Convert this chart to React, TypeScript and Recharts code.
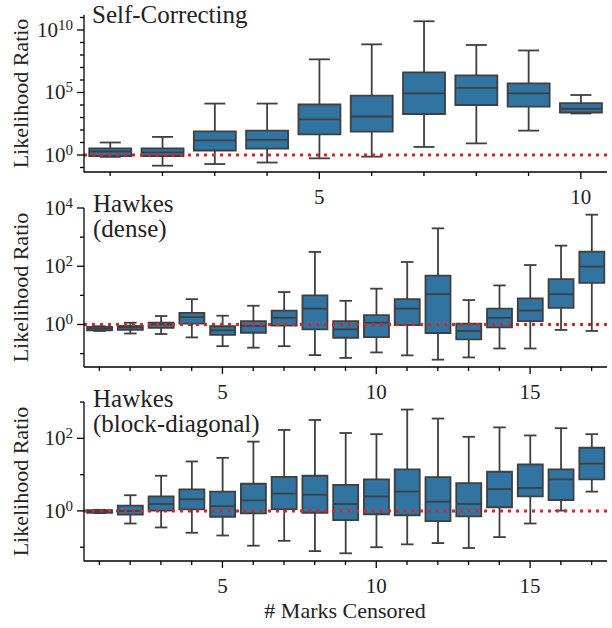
import { ComposedChart, Bar, XAxis, YAxis, ReferenceLine } from 'recharts'

// categories (# marks censored)
const scCats = [1, 2, 3, 4, 5, 6, 7, 8, 9, 10]
const hkCats = [1, 2, 3, 4, 5, 6, 7, 8, 9, 10, 11, 12, 13, 14, 15, 16, 17]

// Self-Correcting: whisker low, q1, median, q3, whisker high
const scLo = [0.71, 0.14, 0.19, 0.25, 0.54, 0.74, 4.4, 8.5, 89, 2100]
const scQ1 = [0.83, 0.83, 2.3, 3.2, 45, 74, 1900, 1.0e4, 7400, 2500]
const scMed = [1.9, 1.6, 15, 16, 710, 1200, 8.5e4, 2.3e5, 8.5e4, 5000]
const scQ3 = [3.4, 3.4, 79, 89, 1.1e4, 5.6e4, 4.0e6, 2.3e6, 5.4e5, 1.4e4]
const scHi = [10, 28, 1.3e4, 1.3e4, 4.5e7, 7.1e8, 5.0e10, 6.3e8, 2.3e8, 6.3e4]

// Hawkes (dense)
const dnLo = [0.6, 0.49, 0.47, 0.36, 0.18, 0.16, 0.18, 0.089, 0.071, 0.11, 0.087, 0.062, 0.074, 0.15, 0.15, 0.65, 0.6]
const dnQ1 = [0.63, 0.65, 0.76, 1.07, 0.44, 0.52, 0.91, 0.68, 0.35, 0.37, 0.95, 0.51, 0.31, 0.79, 1.3, 3.7, 27]
const dnMed = [0.72, 0.79, 1.0, 1.8, 0.63, 0.89, 1.7, 3.5, 0.68, 1.15, 3.5, 11, 0.6, 1.7, 3.0, 11, 98]
const dnQ3 = [0.83, 0.89, 1.15, 2.5, 0.87, 1.3, 3.0, 10, 1.3, 2.1, 7.4, 48, 1.07, 3.5, 7.9, 36, 320]
const dnHi = [0.87, 1.15, 1.95, 7.4, 2.0, 4.4, 13, 310, 6.5, 17, 140, 2000, 6.9, 22, 110, 510, 5900]

// Hawkes (block-diagonal)
const bdLo = [0.87, 0.45, 0.35, 0.25, 0.21, 0.11, 0.15, 0.078, 0.068, 0.1, 0.12, 0.13, 0.095, 0.19, 0.45, 1.02, 3.4]
const bdQ1 = [0.89, 0.79, 1.02, 1.1, 0.69, 0.85, 1.12, 0.89, 0.56, 0.81, 0.76, 0.52, 0.71, 1.26, 2.5, 2.0, 7.4]
const bdMed = [0.95, 1.0, 1.55, 2.1, 1.35, 1.95, 3.0, 2.8, 1.55, 2.5, 3.4, 1.8, 1.55, 4.0, 4.3, 7.4, 20]
const bdQ3 = [1.05, 1.4, 2.5, 3.9, 3.4, 5.6, 8.7, 9.3, 5.2, 7.4, 14, 8.5, 5.8, 12, 19, 14, 55]
const bdHi = [1.07, 2.7, 9.3, 23, 29, 81, 170, 320, 140, 130, 620, 350, 110, 200, 120, 190, 130]

// ticks
const scYTicks = [1e-1, 1, 1e1, 1e2, 1e3, 1e4, 1e5, 1e6, 1e7, 1e8, 1e9, 1e10, 1e11]
const scYLabels = [1, 1e5, 1e10]
const dnYTicks = [1e-1, 1, 1e1, 1e2, 1e3, 1e4]
const dnYLabels = [1, 1e2, 1e4]
const bdYTicks = [1e-1, 1, 1e1, 1e2, 1e3]
const bdYLabels = [1, 1e2]
const scXLabels = [5, 10]
const hkXLabels = [5, 10, 15]

const SERIF = "'Liberation Serif', 'DejaVu Serif', 'Noto Serif', serif"
const BOX_FILL = '#3274a1'
const EDGE = '#3f3f3f'
const RED = '#d62728'

function buildRows(cats: number[], lo: number[], q1: number[], med: number[], q3: number[], hi: number[]) {
  return cats.map((k, i) => ({ k, lo: lo[i], q1: q1[i], med: med[i], q3: q3[i], hi: hi[i] }))
}

const Whisker = (props: any) => {
  const { x, y, width, height } = props
  const cx = x + width / 2
  const cap = width / 4
  const top = Math.min(y, y + height)
  const bot = Math.max(y, y + height)
  return (
    <g stroke={EDGE} strokeWidth={1.8}>
      <line x1={cx} x2={cx} y1={top} y2={bot} />
      <line x1={cx - cap} x2={cx + cap} y1={top} y2={top} />
      <line x1={cx - cap} x2={cx + cap} y1={bot} y2={bot} />
    </g>
  )
}

const MedianLine = (props: any) => {
  const { x, y, width, height } = props
  const my = y + (height || 0) / 2
  return <line x1={x} x2={x + width} y1={my} y2={my} stroke={EDGE} strokeWidth={1.8} />
}

const XTick = (props: any) => {
  const { x, y, payload, labels } = props
  const major = labels.includes(payload.value)
  return (
    <g>
      <line x1={x} x2={x} y1={y} y2={y + (major ? 7 : 4)} stroke="#000" strokeWidth={1.3} />
      {major && (
        <text x={x} y={y + 32} textAnchor="middle" style={{ fontFamily: SERIF, fontSize: 21 }} fill="#222">
          {payload.value}
        </text>
      )}
    </g>
  )
}

const YTick = (props: any) => {
  const { x, y, payload, labels } = props
  const major = labels.includes(payload.value)
  const exp = Math.round(Math.log10(payload.value))
  return (
    <g>
      <line x1={x - (major ? 7 : 4)} x2={x} y1={y} y2={y} stroke="#000" strokeWidth={1.3} />
      {major && (
        <text x={x - 11} y={y + 7} textAnchor="end" style={{ fontFamily: SERIF, fontSize: 21 }} fill="#222">
          <tspan>10</tspan>
          <tspan dy={-7} style={{ fontSize: 15 }}>{exp}</tspan>
        </text>
      )}
    </g>
  )
}

interface PanelProps {
  rows: any[]
  top: number
  height: number
  plotTop: number
  plotBottom: number
  domain: [number, number]
  yTicks: number[]
  yLabels: number[]
  xLabels: number[]
}

function Panel({ rows, top, height, plotTop, plotBottom, domain, yTicks, yLabels, xLabels }: PanelProps) {
  return (
    <div style={{ position: 'absolute', left: 0, top }}>
      <ComposedChart
        width={612}
        height={height}
        data={rows}
        margin={{ top: plotTop - top, right: 5, bottom: 0, left: 0 }}
      >
        <XAxis
          xAxisId="a"
          dataKey="k"
          height={top + height - plotBottom}
          interval={0}
          tickLine={false}
          tickSize={0}
          tickMargin={0}
          axisLine={{ stroke: '#000', strokeWidth: 1.3 }}
          tick={<XTick labels={xLabels} />}
        />
        <XAxis xAxisId="b" dataKey="k" hide />
        <XAxis xAxisId="c" dataKey="k" hide />
        <YAxis
          scale="log"
          type="number"
          domain={domain}
          allowDataOverflow
          ticks={yTicks}
          interval={0}
          width={84}
          tickLine={false}
          tickSize={0}
          tickMargin={0}
          axisLine={{ stroke: '#000', strokeWidth: 1.3 }}
          tick={<YTick labels={yLabels} />}
        />
        <Bar xAxisId="a" dataKey={(d: any) => [d.lo, d.hi]} shape={<Whisker />} isAnimationActive={false} />
        <Bar
          xAxisId="b"
          dataKey={(d: any) => [d.q1, d.q3]}
          fill={BOX_FILL}
          stroke={EDGE}
          strokeWidth={1.8}
          isAnimationActive={false}
        />
        <Bar xAxisId="c" dataKey={(d: any) => [d.med, d.med]} shape={<MedianLine />} isAnimationActive={false} />
        <ReferenceLine xAxisId="a" y={1} stroke={RED} strokeWidth={3} strokeDasharray="3 5" />
      </ComposedChart>
    </div>
  )
}

export default function App() {
  const scRows = buildRows(scCats, scLo, scQ1, scMed, scQ3, scHi)
  const dnRows = buildRows(hkCats, dnLo, dnQ1, dnMed, dnQ3, dnHi)
  const bdRows = buildRows(hkCats, bdLo, bdQ1, bdMed, bdQ3, bdHi)

  return (
    <div style={{ position: 'absolute', left: 0, top: 0, width: 612, height: 628, background: '#fff', overflow: 'hidden' }}>
      <Panel rows={scRows} top={0} height={212} plotTop={15} plotBottom={172}
        domain={[0.0437, 1.58e11]} yTicks={scYTicks} yLabels={scYLabels} xLabels={scXLabels} />
      <Panel rows={dnRows} top={190} height={220} plotTop={208} plotBottom={367}
        domain={[0.0347, 1e4]} yTicks={dnYTicks} yLabels={dnYLabels} xLabels={hkXLabels} />
      <Panel rows={bdRows} top={380} height={248} plotTop={402} plotBottom={561}
        domain={[0.0417, 1e3]} yTicks={bdYTicks} yLabels={bdYLabels} xLabels={hkXLabels} />

      <svg width={612} height={628} style={{ position: 'absolute', left: 0, top: 0, pointerEvents: 'none' }}>
        <g style={{ fontFamily: SERIF }} fill="#222">
          <text x={92} y={23} style={{ fontSize: 25 }}>Self-Correcting</text>
          <text x={93} y={212} style={{ fontSize: 25 }}>Hawkes</text>
          <text x={93} y={237} style={{ fontSize: 25 }}>(dense)</text>
          <text x={93} y={407} style={{ fontSize: 25 }}>Hawkes</text>
          <text x={93} y={432} style={{ fontSize: 25 }}>(block-diagonal)</text>
          {[93.5, 287.5, 481.5].map((cy) => (
            <text key={cy} x={28} y={cy} textAnchor="middle" style={{ fontSize: 22 }} transform={`rotate(-90 28 ${cy})`}>
              Likelihood Ratio
            </text>
          ))}
          <text x={345} y={618} textAnchor="middle" style={{ fontSize: 22 }}># Marks Censored</text>
        </g>
      </svg>
    </div>
  )
}
